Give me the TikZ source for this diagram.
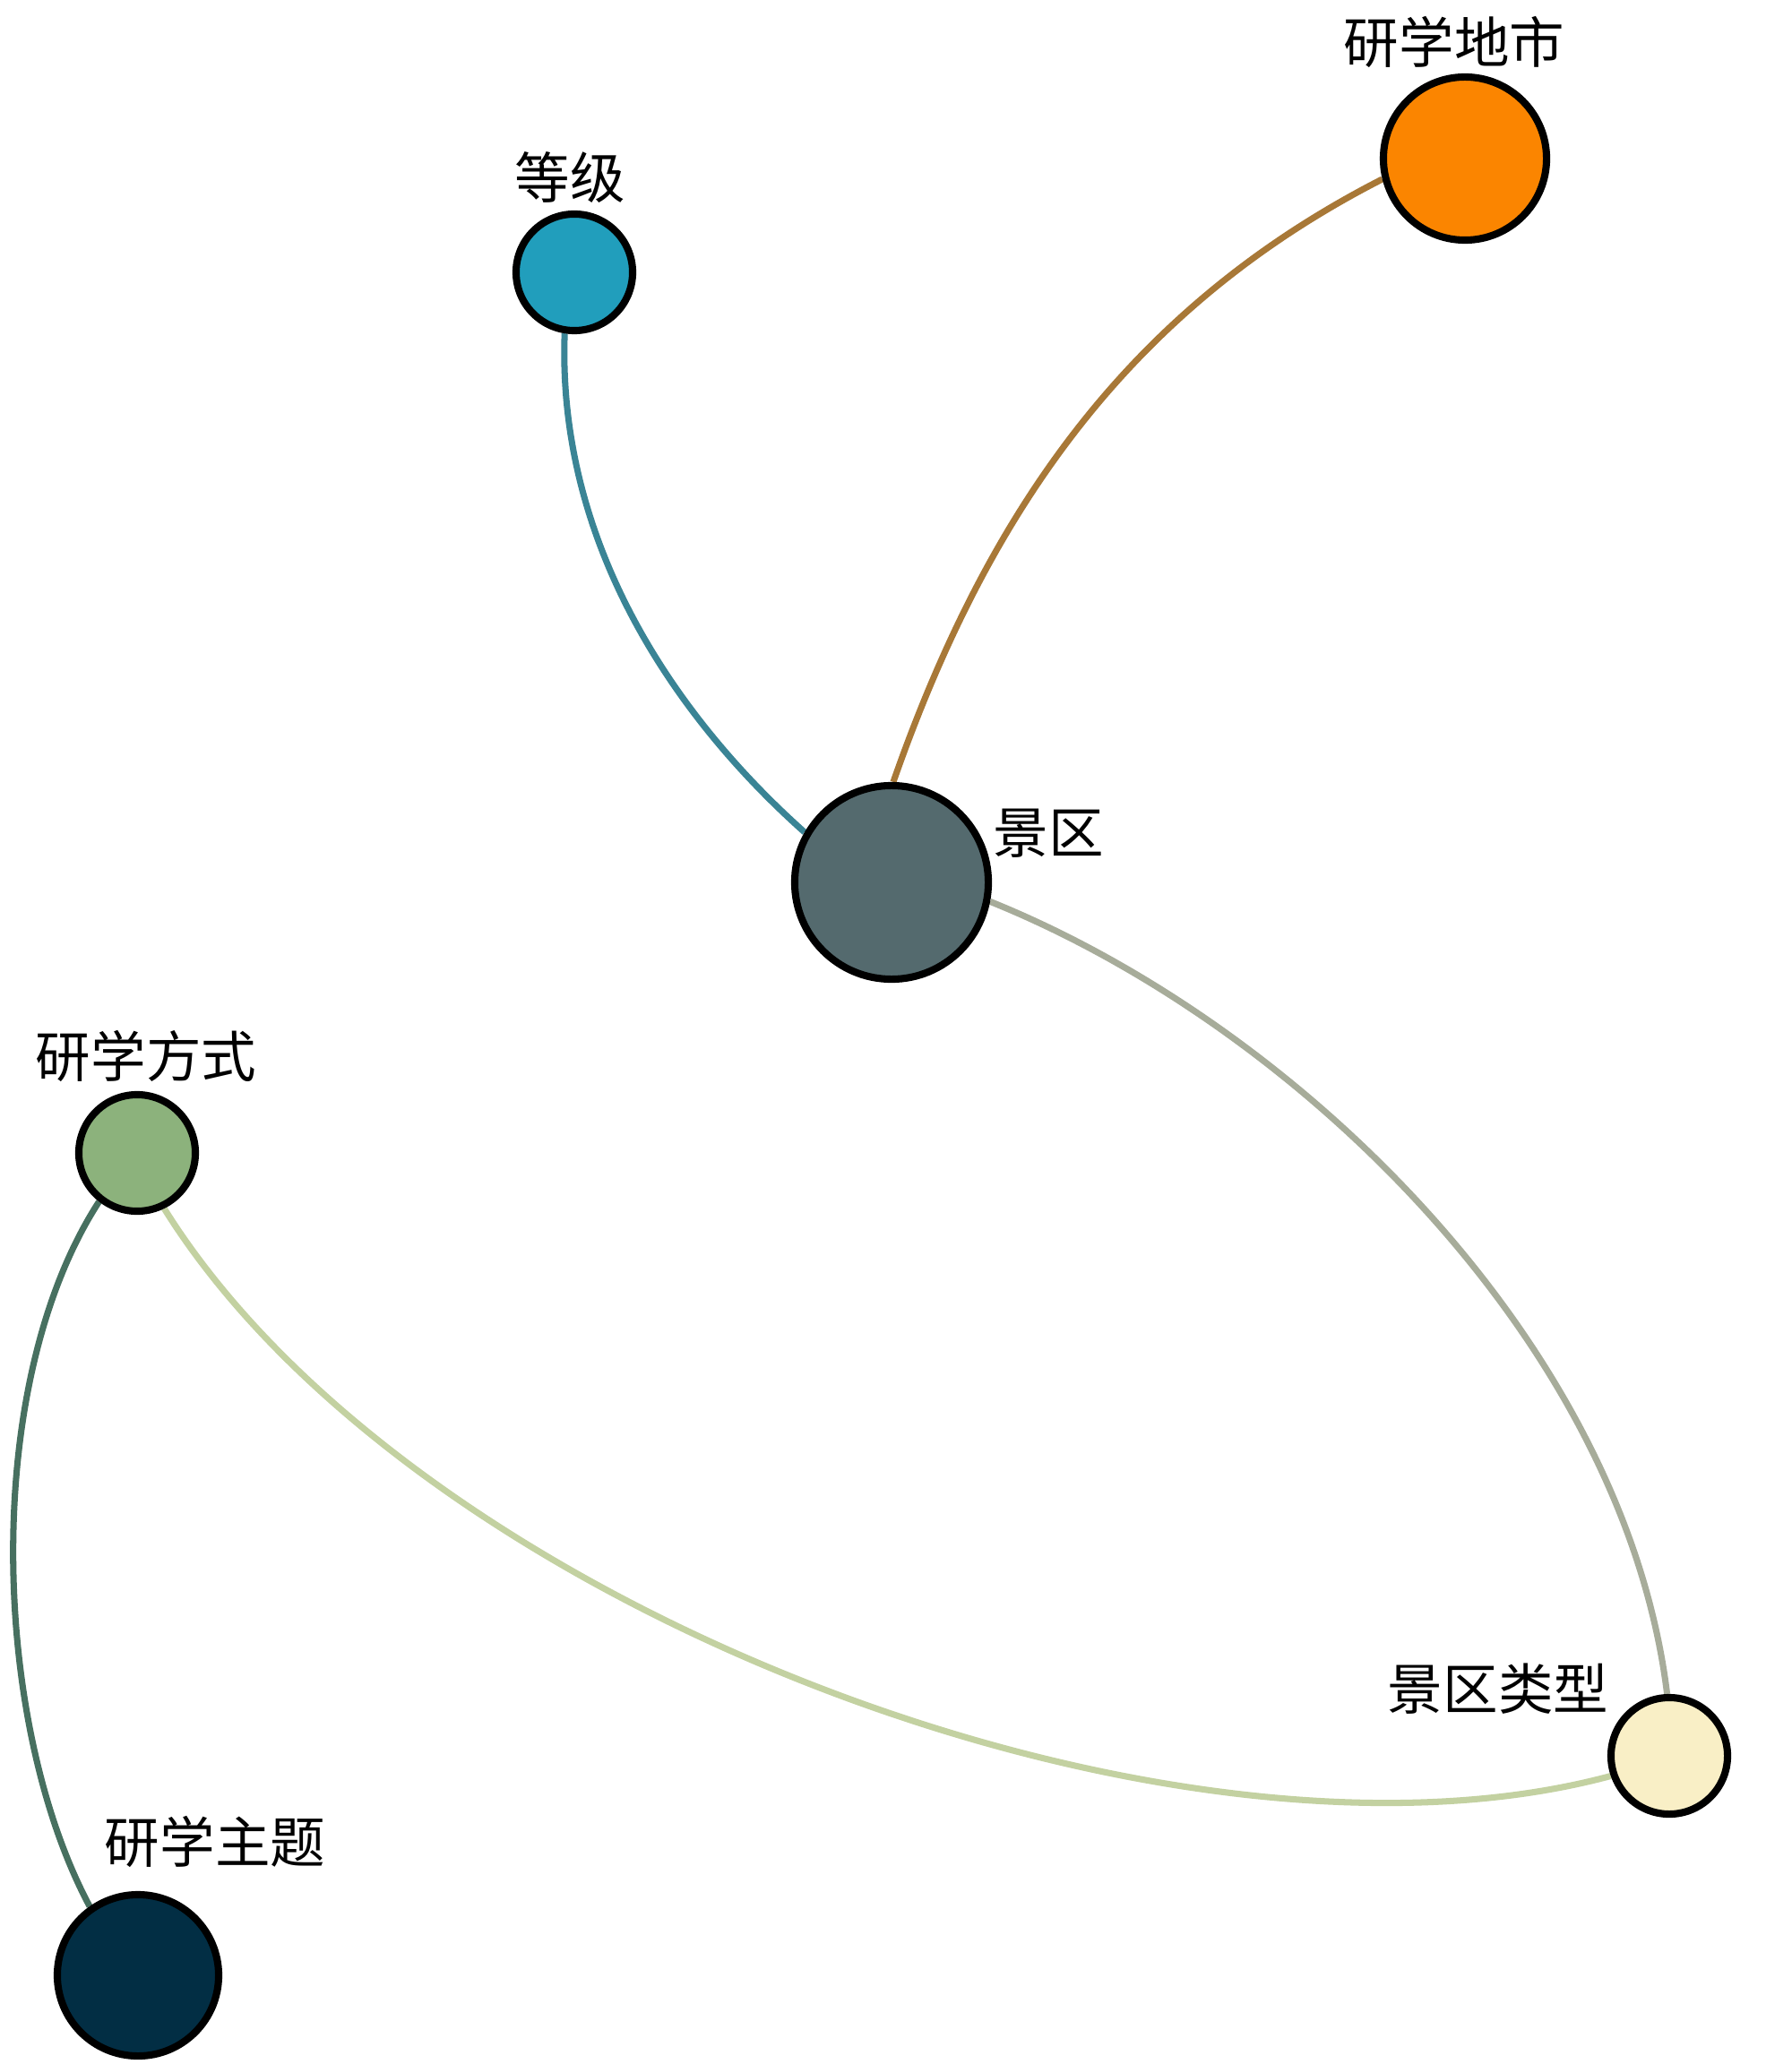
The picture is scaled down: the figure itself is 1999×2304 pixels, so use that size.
\documentclass[tikz,border=0pt]{standalone}
\usepackage{fontspec}
\newfontfamily\cjk{Noto Sans CJK SC}
\definecolor{cDengji}{HTML}{219EBC}
\definecolor{cDishi}{HTML}{FB8500}
\definecolor{cJingqu}{HTML}{546A6E}
\definecolor{cFangshi}{HTML}{8CB27C}
\definecolor{cLeixing}{HTML}{F9EFC6}
\definecolor{cZhuti}{HTML}{022E44}
\colorlet{eDengji}{cDengji!50!cJingqu}
\colorlet{eDishi}{cDishi!50!cJingqu}
\colorlet{eLeixing}{cLeixing!50!cJingqu}
\colorlet{eZhuti}{cFangshi!50!cZhuti}
\colorlet{eFangLei}{cFangshi!50!cLeixing}
\pgfdeclarelayer{bglayer}
\pgfdeclarelayer{edgelayer}
\pgfsetlayers{bglayer,edgelayer,main}
\begin{document}
\begin{tikzpicture}[x=0.01cm,y=-0.01cm,
  vertex/.style={circle,draw=black,line width=2.3pt,inner sep=0pt},
  lbl/.style={font=\cjk\fontsize{17.5}{20}\selectfont,inner sep=0pt,text=black},
  link/.style={line width=2pt}]
\begin{pgfonlayer}{bglayer}
\fill[white] (0,0) rectangle (1999,2304);
\end{pgfonlayer}
\useasboundingbox (0,0) rectangle (1999,2304);
% nodes
\node[vertex,fill=cDengji,minimum size=1.3cm] (dengji) at (641,304) {};
\node[vertex,fill=cDishi,minimum size=1.82cm] (dishi) at (1635,177) {};
\node[vertex,fill=cJingqu,minimum size=2.16cm] (jingqu) at (995,985) {};
\node[vertex,fill=cFangshi,minimum size=1.3cm] (fangshi) at (153,1287) {};
\node[vertex,fill=cLeixing,minimum size=1.3cm] (leixing) at (1863,1960) {};
\node[vertex,fill=cZhuti,minimum size=1.8cm] (zhuti) at (154,2205) {};
% labels
\node[lbl] (tDengji) at (636,198) {等级};
\node[lbl] (tDishi) at (1623,47) {研学地市};
\node[lbl] (tJingqu) at (1170,930) {景区};
\node[lbl] (tFangshi) at (163,1179) {研学方式};
\node[lbl] (tLeixing) at (1672,1885) {景区类型};
\node[lbl] (tZhuti) at (240,2056) {研学主题};
% edges
\begin{pgfonlayer}{edgelayer}
\draw[link,eDengji] (dengji.261) .. controls (622,594) and (740,788) .. (jingqu.150);
\draw[link,eDishi] (dishi.194) .. controls (1255,347) and (1100,578) .. (jingqu.89);
\draw[link,eLeixing] (jingqu.-11) .. controls (1451,1146) and (1813,1502) .. (leixing.92);
\draw[link,eZhuti] (fangshi.232) .. controls (-22,1546) and (-9,1924) .. (zhuti.125);
\draw[link,eFangLei] (fangshi.-64) .. controls (460,1793) and (1305,2115) .. (leixing.199);
\end{pgfonlayer}
\end{tikzpicture}
\end{document}
